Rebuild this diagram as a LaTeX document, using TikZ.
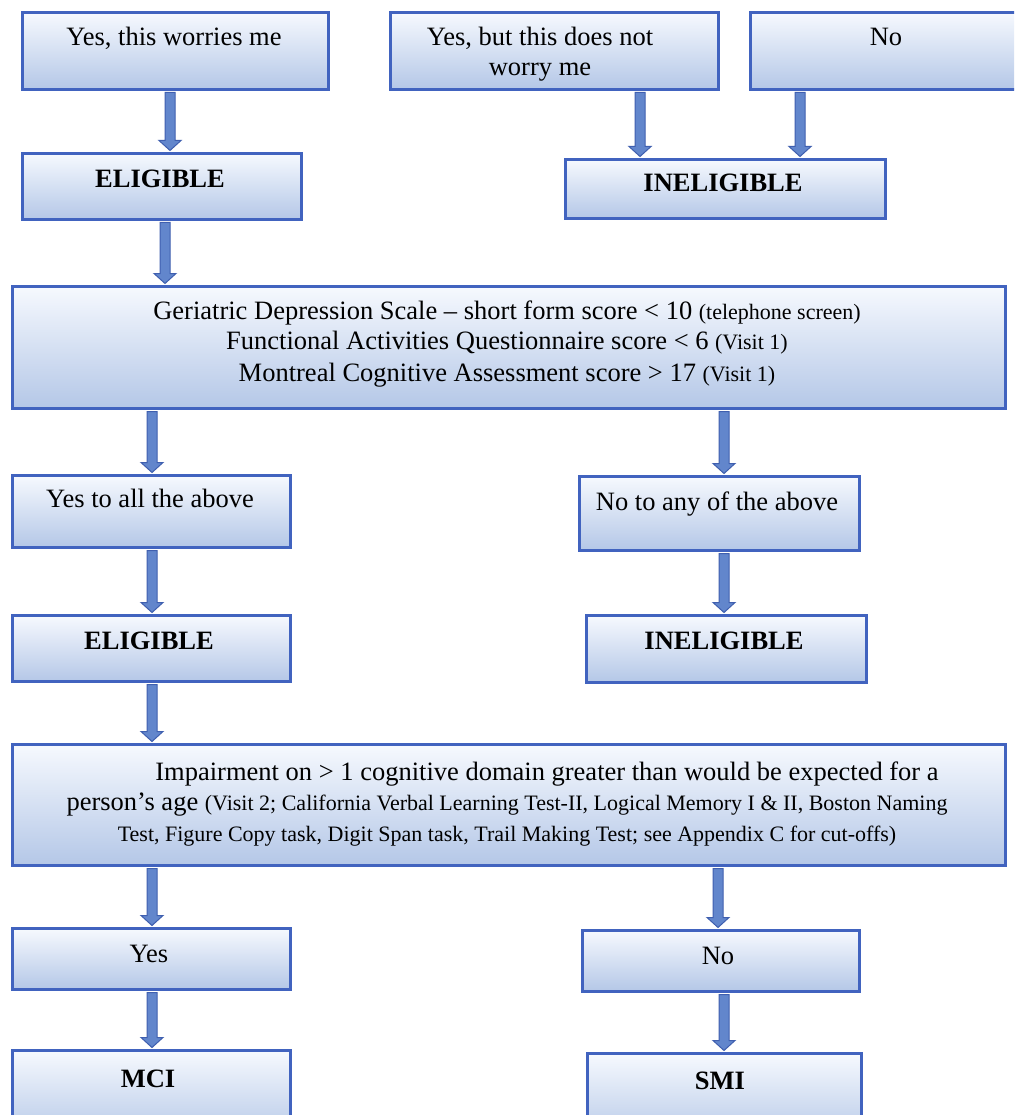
\documentclass[tikz,border=0pt]{standalone}
\usepackage{fontspec}
\setmainfont{Liberation Serif}
\usetikzlibrary{calc}
\definecolor{boxline}{HTML}{4163BF}
\definecolor{boxtop}{HTML}{F6F9FE}
\definecolor{boxbot}{HTML}{B4C7E7}
\definecolor{arrfill}{HTML}{6286CC}
\definecolor{arrline}{HTML}{3F5FAF}
\newcommand\bigtxt{\fontsize{26.5}{30.5}\selectfont}
\newcommand\smalltxt{\fontsize{22}{30.5}\selectfont}
\newcommand\blockarrow[3]{%
  \path let \p1=(#1.south -| #3), \p2=(#2.north -| #3) in
    [fill=arrfill, draw=arrline, line width=1pt, line join=miter]
    (\x1-5pt,\y1-1.5pt) -- (\x1-5pt,\y2+11.5pt) -- (\x1-11pt,\y2+11.5pt)
    -- (\x1,\y2+1.5pt) -- (\x1+11pt,\y2+11.5pt) -- (\x1+5pt,\y2+11.5pt)
    -- (\x1+5pt,\y1-1.5pt) -- cycle;}
\tikzset{
  flowbox/.style={draw=boxline, line width=3pt, top color=boxtop, bottom color=boxbot,
    anchor=north west, inner sep=0pt, rectangle},
  txt/.style={inner sep=0pt, anchor=base, font=\bigtxt},
  btxt/.style={inner sep=0pt, anchor=base, font=\bigtxt\bfseries},
}
\begin{document}
\begin{tikzpicture}[x=1pt, y=-1pt]
\useasboundingbox (0,0) rectangle (1014,1115);
\fill[white] (0,0) rectangle (1014,1115);
\clip (0,0) rectangle (1014,1115);

% boxes
\node[flowbox, minimum width=306pt, minimum height=77pt] (A) at (21,11) {};
\node[flowbox, minimum width=328pt, minimum height=77pt] (B) at (389,11) {};
\node[flowbox, minimum width=290pt, minimum height=77pt] (C) at (749,11) {};
\node[flowbox, minimum width=279pt, minimum height=66pt] (E1) at (21,152) {};
\node[flowbox, minimum width=320pt, minimum height=59pt] (I1) at (564,158) {};
\node[flowbox, minimum width=993pt, minimum height=122pt] (G) at (11,285) {};
\node[flowbox, minimum width=278pt, minimum height=72pt] (Y1) at (11,474) {};
\node[flowbox, minimum width=280pt, minimum height=74pt] (N1) at (578,475) {};
\node[flowbox, minimum width=278pt, minimum height=66pt] (E2) at (11,614) {};
\node[flowbox, minimum width=280pt, minimum height=67pt] (I2) at (585,614) {};
\node[flowbox, minimum width=993pt, minimum height=121pt] (P) at (11,743) {};
\node[flowbox, minimum width=278pt, minimum height=61pt] (Y2) at (11,927) {};
\node[flowbox, minimum width=277pt, minimum height=61pt] (N2) at (581,929) {};
\node[flowbox, minimum width=278pt, minimum height=90pt] (M) at (11,1049) {};
\node[flowbox, minimum width=274pt, minimum height=90pt] (S) at (586,1052) {};

% texts
\node[txt] (tA) at (174,46) {Yes, this worries me};
\node[txt] (tB1) at (540,46) {Yes, but this does not};
\node[txt] (tB2) at (540,76) {worry me};
\node[txt] (tC) at (886,46) {No};
\node[btxt] (tE1) at (160,188) {ELIGIBLE};
\node[btxt] (tI1) at (723,192) {INELIGIBLE};
\node[txt] (tG1) at (507,319) {Geriatric Depression Scale – short form score < 10 {\smalltxt(telephone screen)}};
\node[txt] (tG2) at (507,349) {Functional Activities Questionnaire score < 6 {\smalltxt(Visit 1)}};
\node[txt] (tG3) at (507,381) {Montreal Cognitive Assessment score > 17 {\smalltxt(Visit 1)}};
\node[txt] (tY1) at (150,507) {Yes to all the above};
\node[txt] (tN1) at (717,510) {No to any of the above};
\node[btxt] (tE2) at (149,649) {ELIGIBLE};
\node[btxt] (tI2) at (724,649) {INELIGIBLE};
\node[txt] (tP1) at (547,780) {Impairment on > 1 cognitive domain greater than would be expected for a};
\node[txt] (tP2) at (507,810) {person’s age {\smalltxt(Visit 2; California Verbal Learning Test-II, Logical Memory I \& II, Boston Naming}};
\node[txt, font=\smalltxt] (tP3) at (507,841) {Test, Figure Copy task, Digit Span task, Trail Making Test; see Appendix C for cut-offs)};
\node[txt] (tY2) at (149,962) {Yes};
\node[txt] (tN2) at (718,964) {No};
\node[btxt] (tM) at (148,1087) {MCI};
\node[btxt] (tS) at (720,1089) {SMI};

% arrow columns
\coordinate (x170) at (170,0);
\coordinate (x165) at (165,0);
\coordinate (x640) at (640,0);
\coordinate (x800) at (800,0);
\coordinate (x152) at (152,0);
\coordinate (x724) at (724,0);
\coordinate (x718) at (718,0);

% connectors
\blockarrow{A}{E1}{x170}
\blockarrow{B}{I1}{x640}
\blockarrow{C}{I1}{x800}
\blockarrow{E1}{G}{x165}
\blockarrow{G}{Y1}{x152}
\blockarrow{G}{N1}{x724}
\blockarrow{Y1}{E2}{x152}
\blockarrow{N1}{I2}{x724}
\blockarrow{E2}{P}{x152}
\blockarrow{P}{Y2}{x152}
\blockarrow{P}{N2}{x718}
\blockarrow{Y2}{M}{x152}
\blockarrow{N2}{S}{x724}
\end{tikzpicture}
\end{document}
